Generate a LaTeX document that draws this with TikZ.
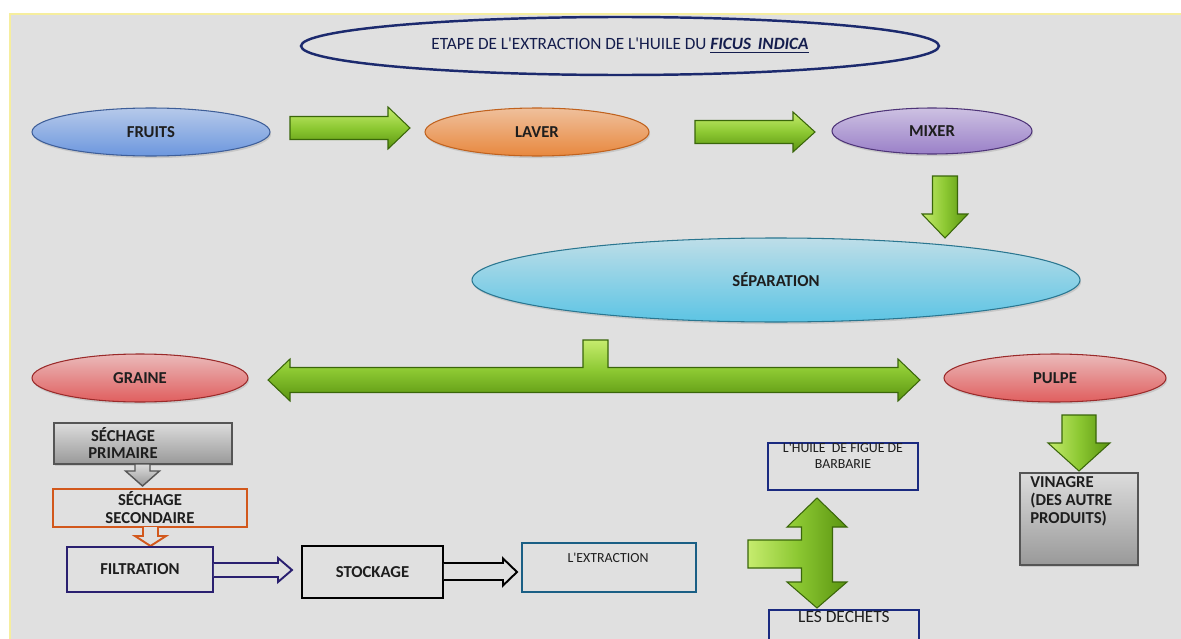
\documentclass[tikz,border=0pt]{standalone}
\usepackage{fontspec}
\setmainfont{Carlito}
\newfontfamily\cf{Carlito}
\usetikzlibrary{shapes.geometric,shadows}
\definecolor{bgc}{HTML}{E0E0E0}
\definecolor{yline}{HTML}{F6EE9E}
\definecolor{txt}{HTML}{1E1E1E}
\definecolor{titc}{HTML}{1C2A6E}
\definecolor{fruT}{HTML}{B6C9EA}
\definecolor{fruB}{HTML}{6C97DE}
\definecolor{fruD}{HTML}{3E5E98}
\definecolor{lavT}{HTML}{EFC09C}
\definecolor{lavB}{HTML}{E8883E}
\definecolor{lavD}{HTML}{C0621E}
\definecolor{mixT}{HTML}{CDC1E2}
\definecolor{mixB}{HTML}{9A80C8}
\definecolor{mixD}{HTML}{4E3478}
\definecolor{sepT}{HTML}{BEDEE8}
\definecolor{sepB}{HTML}{5CC4E4}
\definecolor{sepD}{HTML}{2A7690}
\definecolor{redT}{HTML}{EABABA}
\definecolor{redB}{HTML}{E05E5E}
\definecolor{redD}{HTML}{9A2A2A}
\definecolor{gT}{HTML}{C6EC6E}
\definecolor{gM}{HTML}{8CC832}
\definecolor{gB}{HTML}{5A9410}
\definecolor{gD}{HTML}{3A660A}
\definecolor{grT}{HTML}{DCDCDC}
\definecolor{grB}{HTML}{999999}
\definecolor{grD}{HTML}{555555}
\definecolor{orn}{HTML}{D2581C}
\definecolor{nav}{HTML}{2A2070}
\definecolor{nav2}{HTML}{1A2A80}
\definecolor{teal}{HTML}{1A5F85}
\newcommand\labfont{\cf\fontsize{9.5}{10.2}\selectfont\bfseries}
\newcommand\smfont{\cf\fontsize{7.9}{9.2}\selectfont}
\begin{document}
\begin{tikzpicture}[x=0.02cm,y=-0.02cm,
  ell/.style={ellipse, inner sep=0, line width=0.6pt, font=\labfont, text=txt,
    drop shadow={opacity=0.25, shadow xshift=0.6pt, shadow yshift=-1.2pt}},
  bx/.style={rectangle, inner sep=0, line width=1.1pt, font=\labfont, text=txt},
  hgreen/.style={top color=gT, bottom color=gB, middle color=gM, draw=gD, line width=0.6pt},
  vgreen/.style={left color=gT, right color=gB, middle color=gM, draw=gD, line width=0.6pt},
  oarrow/.style={fill=bgc, line width=1.1pt, line join=miter}]
\useasboundingbox (0,0) rectangle (1181,639);
\fill[white] (0,0) rectangle (1181,639);
\fill[bgc] (10,14) rectangle (1181,639);
\draw[yline, line width=1pt] (10,639) -- (10,14) -- (1181,14);

% title
\node[ellipse, inner sep=0, minimum width={638*0.02cm}, minimum height={58*0.02cm},
  draw=titc, line width=1.4pt, text=titc!70!black,
  font=\cf\fontsize{9.8}{11}\selectfont] (title) at (620,46)
  {ETAPE DE L'EXTRACTION DE L'HUILE DU \underline{\textbf{\textit{FICUS\, INDICA}}}};

% top row
\node[ell, minimum width={238*0.02cm}, minimum height={48*0.02cm},
  top color=fruT, bottom color=fruB, draw=fruD] (fruits) at (151,132) {FRUITS};
\node[ell, minimum width={224*0.02cm}, minimum height={48*0.02cm},
  top color=lavT, bottom color=lavB, draw=lavD] (laver) at (537,132) {LAVER};
\node[ell, minimum width={200*0.02cm}, minimum height={46*0.02cm},
  top color=mixT, bottom color=mixB, draw=mixD] (mixer) at (932,131) {MIXER};

\draw[hgreen] (290,116.5) -- (388,116.5) -- (388,107) -- (410,128) -- (388,149)
  -- (388,139.5) -- (290,139.5) -- cycle;
\draw[hgreen] (695,120.5) -- (793,120.5) -- (793,112) -- (815,132) -- (793,152)
  -- (793,143.5) -- (695,143.5) -- cycle;
\draw[vgreen] (932.5,176) -- (957.5,176) -- (957.5,214) -- (968,214) -- (945,238)
  -- (922,214) -- (932.5,214) -- cycle;

% separation
\node[ell, minimum width={608*0.02cm}, minimum height={84*0.02cm},
  top color=sepT, bottom color=sepB, draw=sepD] (sep) at (776,280) {SÉPARATION};

% T arrow
\draw[hgreen] (268,380) -- (290,359) -- (290,367.5) -- (583,367.5) -- (583,340)
  -- (608,340) -- (608,367.5) -- (898,367.5) -- (898,359) -- (920,380)
  -- (898,401) -- (898,392.5) -- (290,392.5) -- (290,401) -- cycle;

\node[ell, minimum width={216*0.02cm}, minimum height={48*0.02cm},
  top color=redT, bottom color=redB, draw=redD] (graine) at (140,378) {GRAINE};
\node[ell, minimum width={222*0.02cm}, minimum height={48*0.02cm},
  top color=redT, bottom color=redB, draw=redD] (pulpe) at (1055,378) {PULPE};

% pulpe -> vinagre
\draw[vgreen] (1062,415) -- (1096,415) -- (1096,443) -- (1110,443) -- (1079,471)
  -- (1048,443) -- (1062,443) -- cycle;
\node[bx, minimum width={118*0.02cm}, minimum height={92*0.02cm},
  top color=grT, bottom color=grB, draw=grD, line width=0.8pt,
  drop shadow={opacity=0.25, shadow xshift=0.6pt, shadow yshift=-1pt}] (vin) at (1079,519) {};
\node[anchor=north west, font=\labfont, text=txt, align=left, inner sep=0]
  (vintxt) at (1030,476) {VINAGRE\\(DES AUTRE\\PRODUITS)};

% left chain
\node[bx, minimum width={178*0.02cm}, minimum height={41*0.02cm},
  top color=grT, bottom color=grB, draw=grD, line width=0.8pt,
  drop shadow={opacity=0.25, shadow xshift=0.6pt, shadow yshift=-1pt}] (sp) at (143,443.5) {};
\node[font=\labfont, text=txt, align=center, inner sep=0] (sptxt) at (123,443)
  {SÉCHAGE\\PRIMAIRE};
\draw[top color=grT, bottom color=grB, draw=grD, line width=0.8pt]
  (135,464) -- (150,464) -- (150,471) -- (159.5,471) -- (142.5,486) -- (125.5,471)
  -- (135,471) -- cycle;

\node[bx, draw=orn, minimum width={194*0.02cm}, minimum height={38*0.02cm}] (ss) at (150,508) {};
\node[font=\labfont, text=txt, align=center, inner sep=0] (sstxt) at (150,508)
  {SÉCHAGE\\SECONDAIRE};
\draw[oarrow, draw=orn] (143,527) -- (143,536) -- (135,536) -- (150.5,546)
  -- (166,536) -- (158,536) -- (158,527);

\node[bx, draw=nav, minimum width={146*0.02cm}, minimum height={45*0.02cm}] (filt) at (140,569.5) {FILTRATION};
\draw[oarrow, draw=nav] (filt.east |- 0,563) -- (278,563) -- (278,558) -- (292,570)
  -- (278,582) -- (278,577) -- (filt.east |- 0,577);

\node[bx, draw=black, minimum width={141*0.02cm}, minimum height={52*0.02cm}] (stock) at (372.5,572) {STOCKAGE};
\draw[oarrow, draw=black] (stock.east |- 0,563) -- (503,563) -- (503,558.5) -- (517,572)
  -- (503,585.5) -- (503,580) -- (stock.east |- 0,580);

\node[bx, draw=teal, minimum width={174*0.02cm}, minimum height={49*0.02cm}] (extr) at (609,567.5) {};
\node[font=\smfont, text=txt, inner sep=0] (extrtxt) at (608,558) {L'EXTRACTION};

% right bottom
\node[bx, draw=nav2, minimum width={150*0.02cm}, minimum height={47*0.02cm}] (huile) at (843,466.5) {};
\node[font=\smfont, text=txt, align=center, inner sep=0] (huiletxt) at (843,456)
  {L'HUILE\ \ DE FIGUE DE\\BARBARIE};
\node[bx, draw=nav2, minimum width={150*0.02cm}, minimum height={50*0.02cm}] (dech) at (844,635) {};
\node[font=\cf\fontsize{9.9}{11}\selectfont, text=txt, inner sep=0] (dechtxt) at (844,617) {LES DECHETS};

\draw[vgreen] (817,498) -- (847,527) -- (832.5,527) -- (832.5,582) -- (847,582)
  -- (817,608) -- (787,582) -- (801.5,582) -- (801.5,568) -- (748,568) -- (748,540)
  -- (801.5,540) -- (801.5,527) -- (787,527) -- cycle;
\end{tikzpicture}
\end{document}
